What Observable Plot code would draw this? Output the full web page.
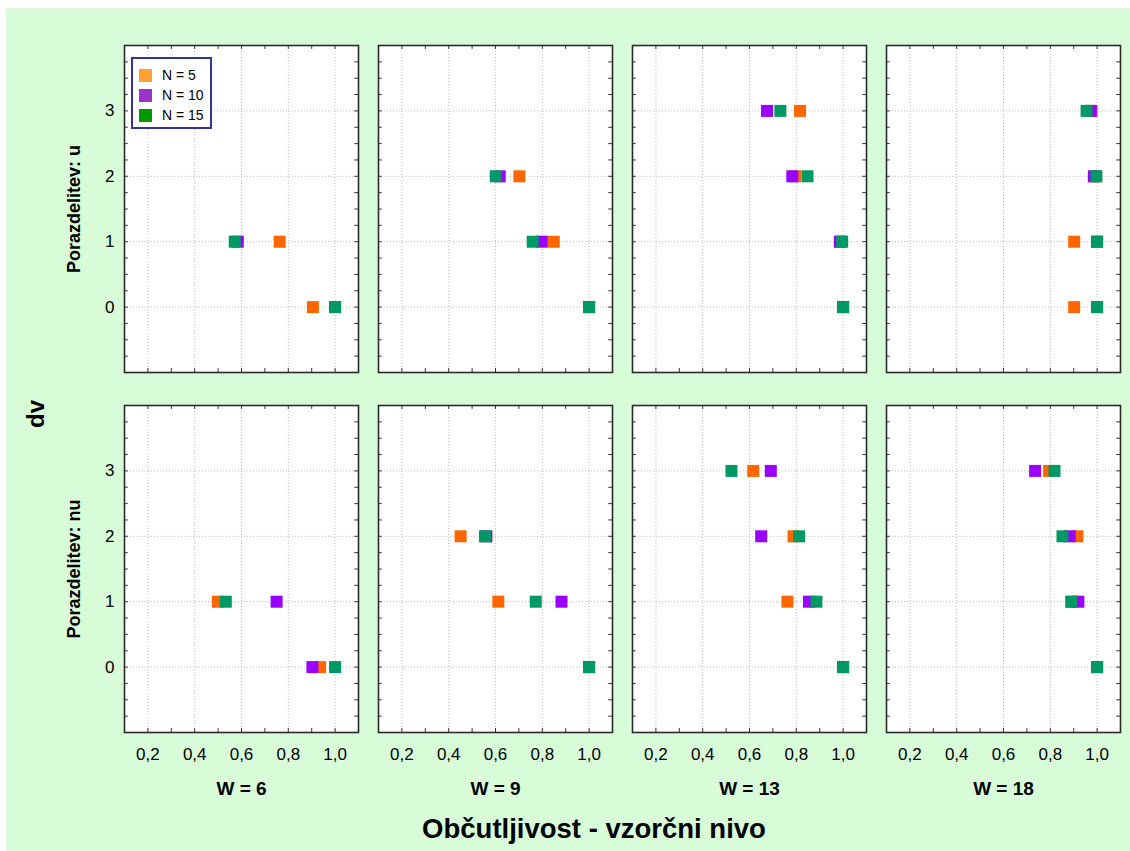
<!DOCTYPE html>
<html>
<head>
<meta charset="utf-8">
<script src="https://cdn.jsdelivr.net/npm/d3@7"></script>
<script src="https://cdn.jsdelivr.net/npm/@observablehq/plot@0.6"></script>
<style>
  body { margin: 0; background: #ffffff; }
  #wrap { position: relative; width: 1130px; height: 851px; overflow: hidden; font-family: "Liberation Sans", Arial, sans-serif; }
  #bg { position: absolute; left: 6px; top: 8px; right: 0; bottom: 0; background: #d8fcd8; }
  #chart { position: absolute; left: 0; top: 0; }
  .legend { position: absolute; left: 131px; top: 57px; width: 77px; height: 68px; border: 2px solid #333399; background: #ffffff; }
  .legend .row { position: absolute; left: 6px; height: 14px; display: flex; align-items: center; font-size: 14px; color: #000; }
  .legend .sw { width: 13px; height: 13px; margin-right: 10px; }
  .lbl { position: absolute; font-weight: bold; color: #000; white-space: nowrap; transform: translate(-50%, -50%); }
</style>
</head>
<body>
<div id="wrap">
  <div id="bg"></div>
  <div id="chart"></div>
</div>
<script>
// ---- data ----
const W = [6, 9, 13, 18];                 // facet columns
const distributions = ["u", "nu"];        // facet rows
const dvLevels = [0, 1, 2, 3];            // y categories
const seriesN = [5, 10, 15];
const seriesLabels = ["N = 5", "N = 10", "N = 15"];
const seriesColors = ["#ff6600", "#9900ff", "#009966"];
const legendColors = ["#ffa033", "#9933cc", "#009900"];

const xTicks = [0.2, 0.4, 0.6, 0.8, 1.0];
const xMinorTicks = [0.2, 0.3, 0.4, 0.5, 0.6, 0.7, 0.8, 0.9, 1.0];
const yMinorTicks = [-0.75, -0.5, -0.25, 0, 0.25, 0.5, 0.75, 1, 1.25, 1.5, 1.75, 2, 2.25, 2.5, 2.75, 3, 3.25, 3.5, 3.75];

// values: rows = W (6, 9, 13, 18), columns = dv (0, 1, 2, 3)
const n5_u   = [[0.905, 0.763, null, null], [1.0, 0.849, 0.702, null], [1.0, 0.99, 0.796, 0.816], [0.902, 0.902, 0.995, 0.977]];
const n10_u  = [[1.0, 0.584, null, null], [1.0, 0.798, 0.618, null], [1.0, 0.986, 0.783, 0.675], [1.0, 1.0, 0.986, 0.973]];
const n15_u  = [[1.0, 0.571, null, null], [1.0, 0.759, 0.601, null], [1.0, 0.996, 0.848, 0.732], [1.0, 1.0, 0.997, 0.955]];
const n5_nu  = [[0.936, 0.499, null, null], [1.0, 0.612, 0.451, null], [1.0, 0.762, 0.788, 0.616], [1.0, 0.89, 0.916, 0.795]];
const n10_nu = [[0.903, 0.75, null, null], [1.0, 0.882, 0.561, null], [1.0, 0.854, 0.650, 0.691], [1.0, 0.92, 0.883, 0.735]];
const n15_nu = [[1.0, 0.533, null, null], [1.0, 0.772, 0.555, null], [1.0, 0.886, 0.812, 0.523], [1.0, 0.89, 0.852, 0.818]];

const table = {5: {u: n5_u, nu: n5_nu}, 10: {u: n10_u, nu: n10_nu}, 15: {u: n15_u, nu: n15_nu}};
const rows = [];
for (const N of seriesN) {
  for (const dist of distributions) {
    W.forEach((w, i) => {
      dvLevels.forEach((dv, j) => {
        const v = table[N][dist][i][j];
        if (v != null) rows.push({N, dist, W: w, dv, value: v});
      });
    });
  }
}

const fmt = d => d.toFixed(1).replace(".", ",");
const tickColor = "#333333";
const tY = 0.06, tX = 0.016;

const chart = Plot.plot({
  width: 1130,
  height: 851,
  marginLeft: 122,
  marginRight: 8,
  marginTop: 44,
  marginBottom: 118,
  style: {background: "transparent", fontFamily: "'Liberation Sans', Arial, sans-serif", fontSize: "17px", color: "#000"},
  fx: {domain: W, paddingInner: 0.0784, paddingOuter: 0, axis: null},
  fy: {domain: distributions, paddingInner: 0.0914, paddingOuter: 0, axis: null},
  x: {domain: [0.1, 1.1], ticks: xTicks, tickFormat: fmt, tickSize: 0, tickPadding: 15, label: null},
  y: {domain: [-1, 4], ticks: dvLevels, tickFormat: d => String(d), tickSize: 0, tickPadding: 10, label: null},
  color: {domain: seriesN, range: seriesColors},
  marks: [
    Plot.frame({fill: "white", stroke: null}),
    Plot.ruleX(xTicks, {stroke: "#bcbcbc", strokeDasharray: "1,2"}),
    Plot.ruleY(dvLevels, {stroke: "#bcbcbc", strokeDasharray: "1,2"}),
    Plot.ruleX(xMinorTicks, {y1: -1, y2: -1 + tY, stroke: tickColor}),
    Plot.ruleX(xMinorTicks, {y1: 4 - tY, y2: 4, stroke: tickColor}),
    Plot.ruleY(yMinorTicks, {x1: 0.1, x2: 0.1 + tX, stroke: tickColor}),
    Plot.ruleY(yMinorTicks, {x1: 1.1 - tX, x2: 1.1, stroke: tickColor}),
    Plot.dot(rows, {x: "value", y: "dv", fx: "W", fy: "dist", fill: "N", symbol: "square", r: 6.77, stroke: null}),
    Plot.frame({stroke: "#2a2a2a", strokeWidth: 1.6}),
    Plot.text(W, {fx: d => d, fy: () => "nu", text: d => `W = ${d}`, frameAnchor: "bottom", dy: 62, fontWeight: "bold", fontSize: 19}),
    Plot.text(distributions, {fx: () => 6, fy: d => d, text: d => `Porazdelitev: ${d}`, frameAnchor: "left", textAnchor: "middle", dx: -50, rotate: -90, fontWeight: "bold", fontSize: 18})
  ]
});
document.getElementById("chart").appendChild(chart);

// overlay texts and legend
const wrap = document.getElementById("wrap");
const dv = document.createElement("div");
dv.className = "lbl";
dv.textContent = "dv";
dv.style.cssText = "left:36px;top:414px;font-size:24px;transform:translate(-50%,-50%) rotate(-90deg);";
wrap.appendChild(dv);

const title = document.createElement("div");
title.className = "lbl";
title.textContent = "Občutljivost - vzorčni nivo";
title.style.cssText += "left:594px;top:829px;font-size:27.5px;";
wrap.appendChild(title);

const legend = document.createElement("div");
legend.className = "legend";
seriesLabels.forEach((lab, i) => {
  const r = document.createElement("div");
  r.className = "row";
  r.style.top = (9 + i * 20) + "px";
  const sw = document.createElement("div");
  sw.className = "sw";
  sw.style.background = legendColors[i];
  const t = document.createElement("span");
  t.textContent = lab;
  r.appendChild(sw);
  r.appendChild(t);
  legend.appendChild(r);
});
wrap.appendChild(legend);
</script>
</body>
</html>
